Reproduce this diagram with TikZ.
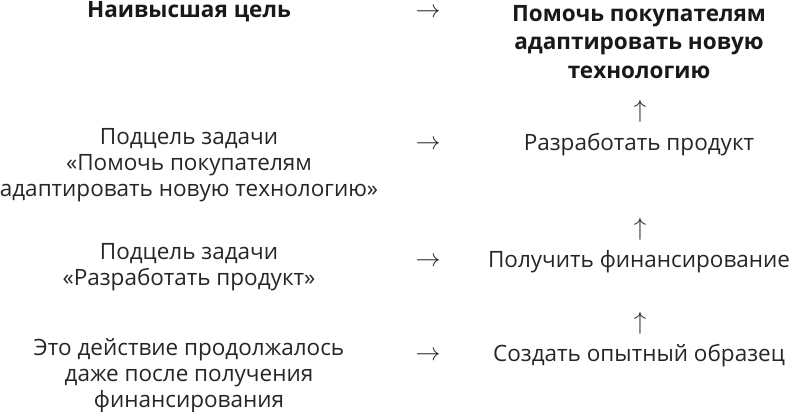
\documentclass[tikz,border=0pt]{standalone}
\usepackage{fontspec}
\setmainfont{Open Sans}
\begin{document}
\begin{tikzpicture}[x=1pt,y=-1pt,line join=round,line cap=round,
    txt/.style={align=center,inner sep=0pt,text=black!85,font=\fontsize{22.5}{26}\selectfont},
    head/.style={txt,text=black!90,font=\fontsize{22.5}{28.5}\selectfont\bfseries},
    sym/.style={inner sep=0pt,text=black!85,font=\fontsize{27}{27}\selectfont}]
            \useasboundingbox (0,0) rectangle (790,412);
            % left column
            \node[head] (goal) at (189,12) {Наивысшая цель};
            \node[txt] (subA) at (189,165) {Подцель задачи\\«Помочь покупателям\\адаптировать новую технологию»};
            \node[txt] (subB) at (189,267) {Подцель задачи\\«Разработать продукт»};
            \node[txt] (cont) at (189,376) {Это действие продолжалось\\даже после получения\\финансирования};
            % right column
            \node[head] (help) at (639,42) {Помочь покупателям\\адаптировать новую\\технологию};
            \node[txt] (dev) at (639,145) {Разработать продукт};
            \node[txt] (fund) at (639,262) {Получить финансирование};
            \node[txt] (proto) at (639,356) {Создать опытный образец};
            % arrows
            \foreach \name/\y in {goal/13,dev/145,fund/262,proto/356}
            \node[sym] (r-\name) at (428,\y) {$\rightarrow$};
            \foreach \name/\y in {dev/111,fund/229,proto/323}
            \node[sym] (u-\name) at (640,\y) {$\uparrow$};
        \end{tikzpicture}
\end{document}
